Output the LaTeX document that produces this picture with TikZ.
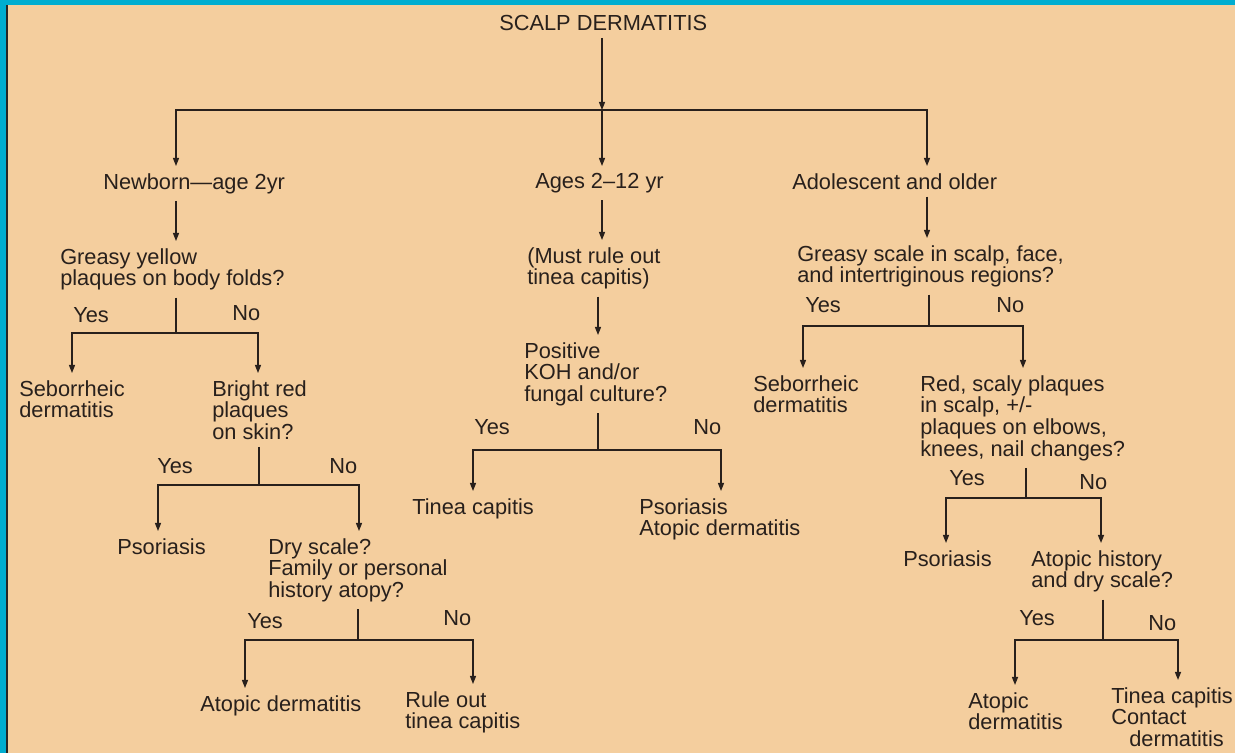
\documentclass[tikz,border=0pt]{standalone}
\usepackage{fontspec}
\setmainfont{Liberation Sans}
\usepackage{tikz}
\usetikzlibrary{arrows.meta}
\definecolor{peach}{RGB}{244,206,158}
\definecolor{framecyan}{RGB}{0,173,208}
\definecolor{ink}{RGB}{40,32,28}

\begin{document}
\begin{tikzpicture}[
	x=0.025cm, y=-0.025cm,
	textnode/.style={anchor=north west, align=left, inner sep=0pt, text=ink, font=\fontsize{15.5pt}{15.4pt}\selectfont},
	answer/.style={anchor=base west, inner sep=0pt, text=ink, font=\fontsize{15.5pt}{15.4pt}\selectfont},
	link/.style={draw=ink, line width=0.9pt},
	stem/.style={link, shorten <=0.175cm},
	arrowlink/.style={link, -{Triangle[length=0.2cm,width=0.15cm]}, shorten >=0.175cm},
	]
	\useasboundingbox (0,0) rectangle (1235,753);
	%Frame
	\fill[framecyan] (0,0) rectangle (1235,753);
	\fill[peach] (8,5) rectangle (1235,753);
	\draw[black!85, line width=0.04cm] (7,5) -- (7,753);
	
	%Nodes
	\node[textnode] (title) at (499,15) {SCALP DERMATITIS};
	\node[textnode] (age1) at (103,173) {Newborn—age 2yr};
	\node[textnode] (age2) at (535,173) {Ages 2–12 yr};
	\node[textnode] (age3) at (792,173) {Adolescent and older};
	
	\node[textnode] (q1) at (60,248) {Greasy yellow\\plaques on body folds?};
	\node[textnode] (r1) at (19,380) {Seborrheic\\dermatitis};
	\node[textnode] (q2) at (212,380) {Bright red\\plaques\\on skin?};
	\node[textnode] (r2) at (117,538) {Psoriasis};
	\node[textnode] (q3) at (268,538) {Dry scale?\\Family or personal\\history atopy?};
	\node[textnode] (r3) at (200,695) {Atopic dermatitis};
	\node[textnode] (r4) at (405,691) {Rule out\\tinea capitis};
	
	\node[textnode] (q4) at (527,247) {(Must rule out\\tinea capitis)};
	\node[textnode] (q5) at (524,342) {Positive\\KOH and/or\\fungal culture?};
	\node[textnode] (r5) at (412,498) {Tinea capitis};
	\node[textnode] (r6) at (639,498) {Psoriasis\\Atopic dermatitis};
	
	\node[textnode] (q6) at (797,245) {Greasy scale in scalp, face,\\and intertriginous regions?};
	\node[textnode] (r7) at (753,375) {Seborrheic\\dermatitis};
	\node[textnode] (q7) at (920,375) {Red, scaly plaques\\in scalp, +/-\\plaques on elbows,\\knees, nail changes?};
	\node[textnode] (r8) at (903,550) {Psoriasis};
	\node[textnode] (q8) at (1031,550) {Atopic history\\and dry scale?};
	\node[textnode] (r9) at (968,692) {Atopic\\dermatitis};
	\node[textnode] (r10) at (1111,687) {Tinea capitis\\Contact\\\hspace*{0.45cm}dermatitis};
	
	\node[answer] (yes1) at (73,323) {Yes};
	\node[answer] (no1) at (232,321) {No};
	\node[answer] (yes2) at (157,473) {Yes};
	\node[answer] (no2) at (329,473) {No};
	\node[answer] (yes3) at (247,628) {Yes};
	\node[answer] (no3) at (443,625) {No};
	\node[answer] (yes4) at (474,435) {Yes};
	\node[answer] (no4) at (693,435) {No};
	\node[answer] (yes5) at (805,313) {Yes};
	\node[answer] (no5) at (996,313) {No};
	\node[answer] (yes6) at (949,485) {Yes};
	\node[answer] (no6) at (1079,490) {No};
	\node[answer] (yes7) at (1019,625) {Yes};
	\node[answer] (no7) at (1148,630) {No};
	
	%Branch points
	\coordinate (j0) at (602,110);
	\coordinate (j0l) at (176,110);
	\coordinate (j0r) at (927,110);
	\coordinate (s1) at (176,333);
	\coordinate (s1l) at (72,333);
	\coordinate (s1r) at (258,333);
	\coordinate (s2) at (259,485);
	\coordinate (s2l) at (158,485);
	\coordinate (s2r) at (359,485);
	\coordinate (s3) at (358,640);
	\coordinate (s3l) at (245,640);
	\coordinate (s3r) at (473,640);
	\coordinate (s4) at (598,450);
	\coordinate (s4l) at (473,450);
	\coordinate (s4r) at (721,450);
	\coordinate (s5) at (929,326);
	\coordinate (s5l) at (803,326);
	\coordinate (s5r) at (1023,326);
	\coordinate (s6) at (1026,498);
	\coordinate (s6l) at (946,498);
	\coordinate (s6r) at (1101,498);
	\coordinate (s7) at (1103,640);
	\coordinate (s7l) at (1015,640);
	\coordinate (s7r) at (1178,640);
	
	%Connectors
	\draw[link, -{Triangle[length=0.2cm,width=0.15cm]}, shorten <=0.175cm] (title.south -| j0) -- (j0);
	\draw[arrowlink] (j0) -| (j0l |- age1.north);
	\draw[arrowlink] (j0) -- (j0 |- age2.north);
	\draw[arrowlink] (j0) -| (j0r |- age3.north);
	
	\draw[arrowlink, shorten <=0.175cm] (age1.south -| j0l) -- (j0l |- q1.north);
	\draw[arrowlink, shorten <=0.175cm] (age2.south -| j0) -- (j0 |- q4.north);
	\draw[arrowlink, shorten <=0.175cm] (q4.south -| s4) -- (s4 |- q5.north);
	\draw[arrowlink, shorten <=0.175cm] (age3.south -| j0r) -- (j0r |- q6.north);
	
	\draw[stem] (q1.south -| s1) -- (s1);
	\draw[arrowlink] (s1) -| (s1l |- r1.north);
	\draw[arrowlink] (s1) -| (s1r |- q2.north);
	\draw[stem] (q2.south -| s2) -- (s2);
	\draw[arrowlink] (s2) -| (s2l |- r2.north);
	\draw[arrowlink] (s2) -| (s2r |- q3.north);
	\draw[stem] (q3.south -| s3) -- (s3);
	\draw[arrowlink] (s3) -| (s3l |- r3.north);
	\draw[arrowlink] (s3) -| (s3r |- r4.north);
	
	\draw[stem] (q5.south -| s4) -- (s4);
	\draw[arrowlink] (s4) -| (s4l |- r5.north);
	\draw[arrowlink] (s4) -| (s4r |- r6.north);
	
	\draw[stem] (q6.south -| s5) -- (s5);
	\draw[arrowlink] (s5) -| (s5l |- r7.north);
	\draw[arrowlink] (s5) -| (s5r |- q7.north);
	\draw[stem] (q7.south -| s6) -- (s6);
	\draw[arrowlink] (s6) -| (s6l |- r8.north);
	\draw[arrowlink] (s6) -| (s6r |- q8.north);
	\draw[stem] (q8.south -| s7) -- (s7);
	\draw[arrowlink] (s7) -| (s7l |- r9.north);
	\draw[arrowlink] (s7) -| (s7r |- r10.north);
\end{tikzpicture}
\end{document}
